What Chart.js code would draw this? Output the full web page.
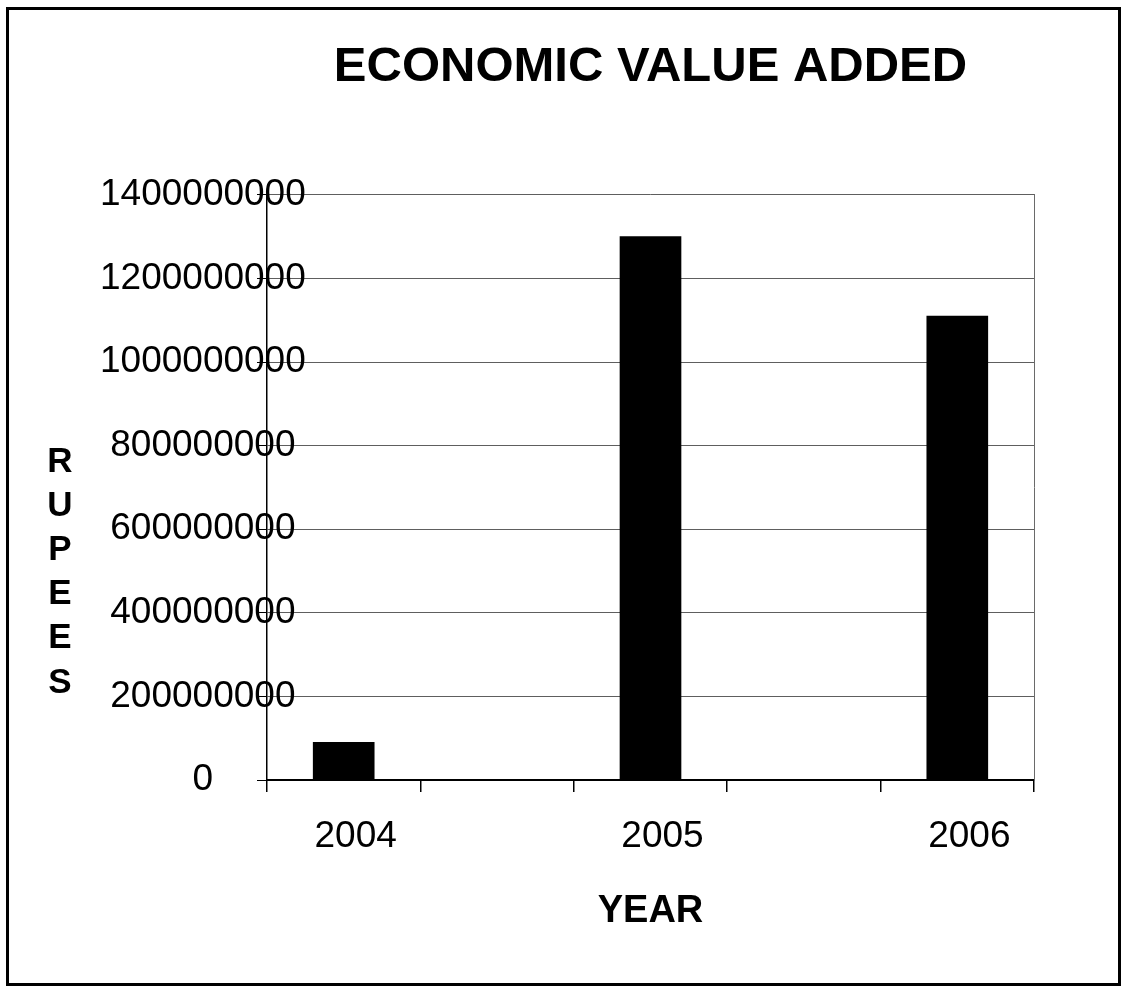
<!DOCTYPE html>
<html>
<head>
<meta charset="utf-8">
<title>Economic Value Added</title>
<script src="https://cdn.jsdelivr.net/npm/chart.js@4.4.1/dist/chart.umd.min.js"></script>
<style>
  html, body { margin: 0; padding: 0; background: #fff; }
  #wrap { position: relative; width: 1123px; height: 988px; }
</style>
</head>
<body>
<div id="wrap"><canvas id="chart" width="1123" height="988"></canvas></div>
<script>
// ---- data ----
const chartTitle = 'ECONOMIC VALUE ADDED';
const xTitle = 'YEAR';
const yTitle = 'RUPEES';
const years = ['2004', '2005', '2006'];
const evaValues = [90000000, 1300000000, 1110000000];
const yTicks = { min: 0, max: 1400000000, step: 200000000 };

const FONT = "'Liberation Sans', Arial, Helvetica, sans-serif";

// Each year sits in its own slot with an empty slot between neighbours.
const labels = [];
const values = [];
years.forEach((yr, i) => {
  if (i > 0) { labels.push(''); values.push(null); }
  labels.push(yr);
  values.push(evaValues[i]);
});

// Page frame and the stacked vertical axis caption.
const decorations = {
  id: 'decorations',
  afterDraw(chart) {
    const ctx = chart.ctx;
    ctx.save();
    ctx.strokeStyle = '#000';
    ctx.lineWidth = 3;
    ctx.strokeRect(7.5, 8.5, 1112, 976);
    ctx.fillStyle = '#000';
    ctx.font = 'bold 35px ' + FONT;
    ctx.textAlign = 'center';
    ctx.textBaseline = 'middle';
    const letters = yTitle.split('');
    letters.forEach((ch, i) => ctx.fillText(ch, 60, 462 + i * 44.2));
    ctx.restore();
  }
};

new Chart(document.getElementById('chart'), {
  type: 'bar',
  data: {
    labels: labels,
    datasets: [{
      data: values,
      backgroundColor: '#000',
      borderWidth: 0,
      barThickness: 61,
      skipNull: true
    }]
  },
  options: {
    responsive: false,
    animation: false,
    layout: { padding: { top: 0, right: 89, bottom: 0, left: 0 } },
    plugins: {
      legend: { display: false },
      tooltip: { enabled: false },
      title: {
        display: true,
        text: chartTitle,
        fullSize: false,
        color: '#000',
        font: { family: FONT, size: 49, weight: 'bold' },
        padding: { top: 38, bottom: 98 }
      }
    },
    scales: {
      x: {
        type: 'category',
        offset: true,
        grid: {
          offset: true,
          drawOnChartArea: false,
          tickLength: 12,
          color: '#000',
          lineWidth: 1.5
        },
        border: { color: '#000', width: 2 },
        ticks: {
          autoSkip: false,
          maxRotation: 0,
          padding: 23,
          labelOffset: 12,
          color: '#000',
          font: { family: FONT, size: 37 }
        },
        title: {
          display: true,
          text: xTitle,
          color: '#000',
          font: { family: FONT, size: 38, weight: 'bold' },
          padding: { top: 0, bottom: 54 }
        },
        afterFit(scale) { scale.width = scale.width; scale.height = 208; }
      },
      y: {
        type: 'linear',
        position: 'left',
        min: yTicks.min,
        max: yTicks.max,
        grid: {
          color: '#5e5e5e',
          lineWidth: 1,
          tickLength: 10,
          tickColor: '#000'
        },
        border: { color: '#000', width: 1.5 },
        ticks: {
          stepSize: yTicks.step,
          mirror: true,
          crossAlign: 'center',
          padding: -167,
          color: '#000',
          font: { family: FONT, size: 37 },
          callback: (v) => String(v)
        },
        afterFit(scale) { scale.width = 267; }
      },
      yRight: {
        type: 'linear',
        position: 'right',
        display: true,
        grid: { drawOnChartArea: false, drawTicks: false },
        border: { color: '#6a6a6a', width: 1 },
        ticks: { display: false },
        afterFit(scale) { scale.width = 0; }
      }
    }
  },
  plugins: [decorations]
});
</script>
</body>
</html>
